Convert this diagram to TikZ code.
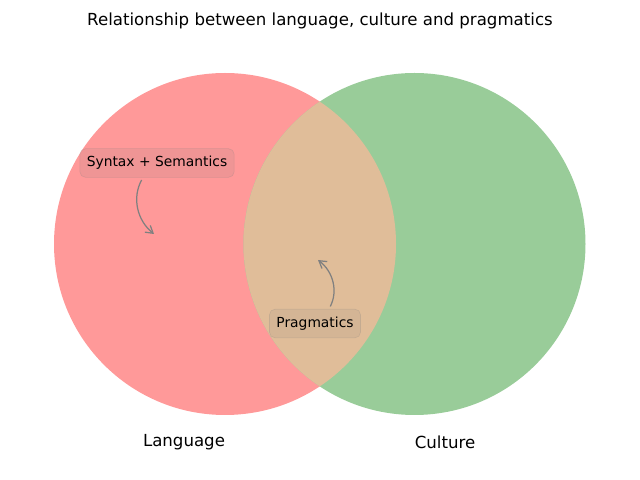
\documentclass[tikz,border=0pt]{standalone}
\usepackage{fontspec}
\setmainfont{DejaVu Sans}
\usetikzlibrary{arrows.meta, positioning}
\definecolor{lang}{HTML}{FF9999}
\definecolor{cult}{HTML}{99CC99}
\definecolor{both}{HTML}{E0BD99}

\begin{document}
\begin{tikzpicture}[x=0.01in, y=-0.01in,
  note/.style={fill=gray, fill opacity=0.12, draw=gray, draw opacity=0.25,
               text opacity=1, rounded corners=4pt, inner xsep=5pt, inner ysep=5.5pt,
               font=\fontsize{10}{12}\selectfont},
  lbl/.style={font=\fontsize{12}{14}\selectfont},
  a/.style={-{Straight Barb[length=1.8mm, width=2.2mm]}, draw=gray, line width=0.9pt}]
\useasboundingbox (0,0) rectangle (640,480);
\node[lbl] (title) at (320,21) {Relationship between language, culture and pragmatics};
\fill[lang] (225,244) circle[radius=171];
\fill[cult] (414.5,244) circle[radius=171];
\begin{scope}
  \clip (225,244) circle[radius=171];
  \fill[both] (414.5,244) circle[radius=171];
\end{scope}
\node[lbl] (language) at (184,442) {Language};
\node[lbl] (culture) at (445,442) {Culture};
\node[note] (syn) at (157,163) {Syntax + Semantics};
\node[note] (prag) at (315,323.5) {Pragmatics};
\coordinate (synpt) at (154,234);
\coordinate (pragpt) at (318,260);
\draw[a, shorten <=2pt] ([xshift=-0.14in]syn.south) to[bend right=40] (synpt);
\draw[a, shorten <=2pt] ([xshift=0.14in]prag.north) to[bend right=40] (pragpt);
\end{tikzpicture}
\end{document}
